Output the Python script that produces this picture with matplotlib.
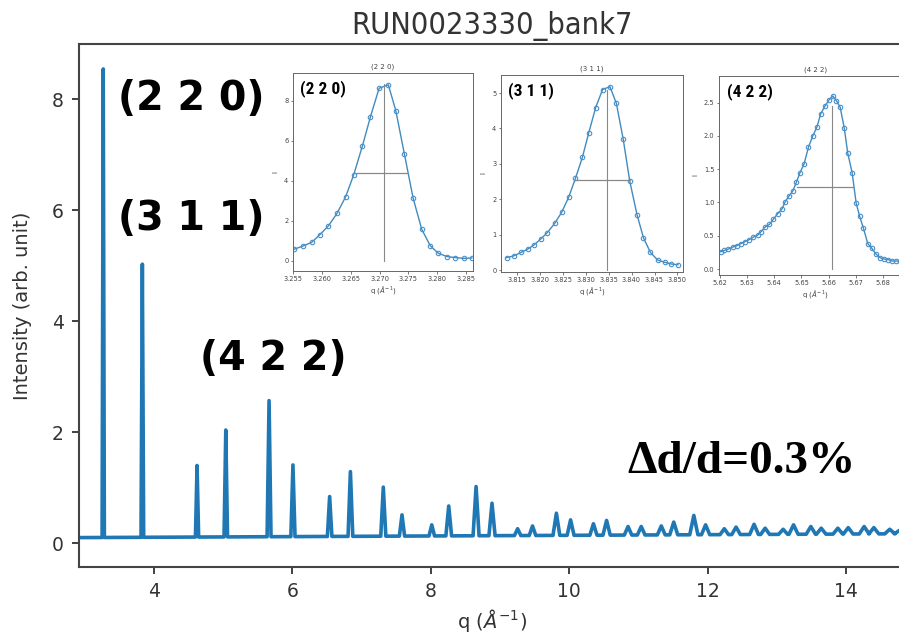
import matplotlib
matplotlib.use("Agg")
import matplotlib.pyplot as plt
from matplotlib import font_manager
import numpy as np

# Si powder pattern, bank 7: peak positions (1/A) and peak heights
peak_q = [3.270, 3.835, 4.625, 5.040, 5.665, 6.010, 6.540, 6.840, 7.315, 7.585,
          8.015, 8.260, 8.655, 8.885, 9.255, 9.470, 9.815, 10.020, 10.350, 10.540,
          10.850, 11.040, 11.330, 11.510, 11.800, 11.970, 12.240, 12.410, 12.670, 12.830,
          13.090, 13.240, 13.490, 13.640, 13.880, 14.030, 14.260, 14.400, 14.630, 14.770]
peak_i = [8.55, 5.03, 1.40, 2.04, 2.57, 1.41, 0.84, 1.29, 1.01, 0.51,
          0.33, 0.67, 1.02, 0.72, 0.26, 0.31, 0.54, 0.42, 0.35, 0.41,
          0.30, 0.30, 0.31, 0.38, 0.50, 0.33, 0.26, 0.29, 0.34, 0.27,
          0.25, 0.33, 0.30, 0.27, 0.27, 0.28, 0.30, 0.28, 0.25, 0.23]
# background level at the low-q and high-q ends
bg_q = [2.9, 15.0]
bg_i = [0.10, 0.17]

# single-peak fits
q220 = [3.2551, 3.2567, 3.2582, 3.2596, 3.2611, 3.2626, 3.2641, 3.2655, 3.2670, 3.2684,
        3.2699, 3.2715, 3.2728, 3.2743, 3.2758, 3.2773, 3.2788, 3.2802, 3.2817, 3.2831,
        3.2847, 3.2860]
i220 = [0.58, 0.75, 0.93, 1.31, 1.75, 2.38, 3.21, 4.31, 5.74, 7.20,
        8.62, 8.79, 7.50, 5.32, 3.14, 1.58, 0.75, 0.38, 0.22, 0.17,
        0.13, 0.15]
fit220 = dict(center=3.2708, height=8.85, half=4.41, lo=3.2657, hi=3.2749)

q311 = [3.8128, 3.8144, 3.8160, 3.8174, 3.8188, 3.8202, 3.8217, 3.8233, 3.8248, 3.8263,
        3.8278, 3.8293, 3.8307, 3.8322, 3.8337, 3.8353, 3.8367, 3.8382, 3.8396, 3.8412,
        3.8426, 3.8441, 3.8457, 3.8472, 3.8486, 3.8501]
i311 = [0.35, 0.40, 0.50, 0.59, 0.71, 0.87, 1.06, 1.32, 1.63, 2.05,
        2.59, 3.18, 3.88, 4.59, 5.10, 5.18, 4.71, 3.69, 2.52, 1.56,
        0.91, 0.50, 0.28, 0.22, 0.17, 0.15]
fit311 = dict(center=3.8347, height=5.10, half=2.54, lo=3.8278, hi=3.8397)

q422 = [5.6202, 5.6216, 5.6231, 5.6247, 5.6262, 5.6276, 5.6292, 5.6307, 5.6323, 5.6339,
        5.6351, 5.6366, 5.6382, 5.6397, 5.6412, 5.6428, 5.6440, 5.6455, 5.6468, 5.6481,
        5.6495, 5.6510, 5.6526, 5.6542, 5.6557, 5.6571, 5.6587, 5.6602, 5.6616, 5.6629,
        5.6643, 5.6658, 5.6671, 5.6687, 5.6702, 5.6715, 5.6729, 5.6745, 5.6760, 5.6774,
        5.6790, 5.6805, 5.6820, 5.6835, 5.6850, 5.6865, 5.6880]
i422 = [0.26, 0.28, 0.30, 0.33, 0.35, 0.38, 0.41, 0.44, 0.48, 0.51,
        0.56, 0.63, 0.67, 0.75, 0.83, 0.90, 1.01, 1.10, 1.17, 1.30,
        1.45, 1.58, 1.83, 2.00, 2.13, 2.33, 2.45, 2.54, 2.60, 2.53,
        2.43, 2.12, 1.74, 1.45, 0.99, 0.79, 0.61, 0.38, 0.31, 0.23,
        0.17, 0.15, 0.14, 0.12, 0.12, 0.12, 0.12]
fit422 = dict(center=5.6612, height=2.45, half=1.23, lo=5.6485, hi=5.6690)

# narrow font for the inset labels, if there is one
installed = {f.name for f in font_manager.fontManager.ttflist}
narrow = next((f for f in ["Liberation Sans Narrow", "Roboto Condensed", "Open Sans Condensed",
                           "DejaVu Sans"] if f in installed))
narrow_size = 12.5 if narrow != "DejaVu Sans" else 10

W, H = 899, 636
fig = plt.figure(figsize=(W / 100, H / 100), dpi=100)


def px_axes(left, top, right, bottom):
    return fig.add_axes([left / W, 1 - bottom / H, (right - left) / W, (bottom - top) / H])


# main pattern: each reflection drawn as a narrow spike on the background
xs = [bg_q[0]]
for c in peak_q:
    w = 0.005 * c
    xs += [c - w, c, c + w]
xs.append(bg_q[1])
xs = np.array(xs)
ys = np.interp(xs, bg_q, bg_i)
ys[2:-1:3] = peak_i

ax = px_axes(79, 44, 905, 567)
ax.plot(xs, ys, color="#1f77b4", lw=2.6, solid_joinstyle="round")
ax.set_xlim(2.92, 14.85)
ax.set_ylim(-0.43, 9.0)
ax.set_xticks([4, 6, 8, 10, 12, 14])
ax.set_yticks([0, 2, 4, 6, 8])
ax.tick_params(labelsize=13.5, colors="#333333", length=5, width=1.3, pad=6)
for s in ax.spines.values():
    s.set_color("#444444")
    s.set_linewidth(1.5)
ax.set_xlabel(r"q ($\AA^{-1}$)", fontsize=14, color="#333333", labelpad=4)
ax.set_ylabel("Intensity (arb. unit)", fontsize=14, color="#333333", labelpad=14)
ax.set_title("RUN0023330_bank7", fontsize=22, color="#333333", pad=7,
             fontfamily="DejaVu Sans", fontstretch="condensed")

for label, x, y in [("(2 2 0)", 191, 99), ("(3 1 1)", 191, 219), ("(4 2 2)", 273, 359)]:
    fig.text(x / W, 1 - y / H, label, fontsize=28.5, fontweight="bold",
             ha="center", va="center", color="black")

fig.text(742 / W, 1 - 462 / H, "Δd/d=0.3%", fontsize=34, fontweight="bold",
         fontfamily="Liberation Serif", ha="center", va="center")


def inset(box, q, i, fit, xlim, ylim, xticks, yticks, name, fmt):
    a = px_axes(*box)
    a.plot(q, i, "-", color="#1f77b4", lw=1.0, alpha=0.85)
    a.plot(q, i, "o", ms=3.2, mfc="none", mec="#4a90c8", mew=0.8)
    a.plot([fit["center"], fit["center"]], [0, fit["height"]], color="#888888", lw=0.8)
    a.plot([fit["lo"], fit["hi"]], [fit["half"], fit["half"]], color="#888888", lw=0.9)
    a.set_xlim(*xlim)
    a.set_ylim(*ylim)
    a.set_xticks(xticks)
    a.set_yticks(yticks)
    a.set_xticklabels([fmt.format(v) for v in xticks])
    a.tick_params(labelsize=4.8, colors="#444444", length=1.8, width=0.5, pad=1.5)
    for s in a.spines.values():
        s.set_color("#666666")
        s.set_linewidth(0.7)
    a.set_title(name, fontsize=5, color="#444444", pad=3)
    a.set_xlabel(r"q ($\AA^{-1}$)", fontsize=5, color="#444444", labelpad=2)
    a.set_ylabel("I", fontsize=5, color="#444444", labelpad=4)
    a.text(0.04, 0.92, name, transform=a.transAxes, fontsize=narrow_size, fontweight="bold",
           fontfamily=narrow, ha="left", va="center")
    return a


inset((293, 73, 473, 271), q220, i220, fit220, (3.25495, 3.2862), (-0.5, 9.38),
      [3.255, 3.260, 3.265, 3.270, 3.275, 3.280, 3.285], [0, 2, 4, 6, 8], "(2 2 0)", "{:.3f}")
inset((501, 75, 683, 272), q311, i311, fit311, (3.8116, 3.8512), (-0.056, 5.51),
      [3.815, 3.820, 3.825, 3.830, 3.835, 3.840, 3.845, 3.850], [0, 1, 2, 3, 4, 5],
      "(3 1 1)", "{:.3f}")
a3 = inset((719, 76, 912, 275), q422, i422, fit422, (5.6196, 5.6908), (-0.09, 2.90),
           [5.62, 5.63, 5.64, 5.65, 5.66, 5.67, 5.68, 5.69], [0.0, 0.5, 1.0, 1.5, 2.0, 2.5],
           "(4 2 2)", "{:.2f}")
a3.set_yticklabels(["0.0", "0.5", "1.0", "1.5", "2.0", "2.5"])

fig.savefig("out.png", dpi=100)
